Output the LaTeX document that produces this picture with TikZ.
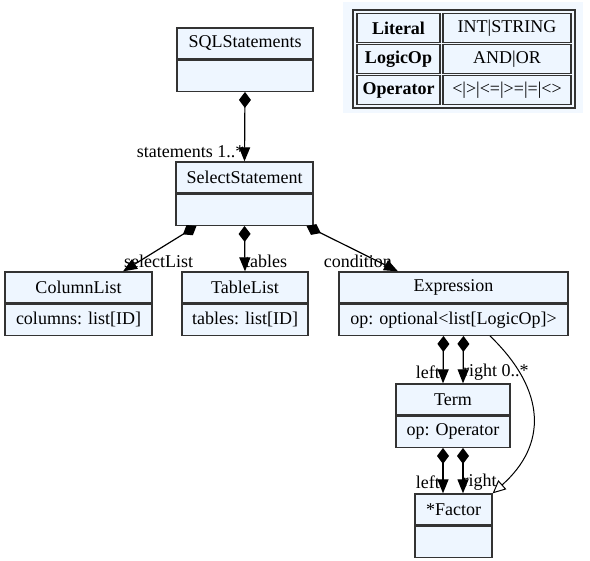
\documentclass[tikz,border=0pt]{standalone}
\usepackage{fontspec}
\setmainfont{Liberation Serif}
\usetikzlibrary{arrows.meta,positioning}
\definecolor{clsfill}{HTML}{EEF6FF}
\definecolor{clsline}{HTML}{333333}
\definecolor{keyback}{HTML}{F2F8FF}

\begin{document}
\begin{tikzpicture}[x=1pt,y=-1pt,
    every node/.style={font=\fontsize{18}{21}\selectfont},
    clshead/.style={draw=clsline,fill=clsfill,line width=1.3pt,minimum height=31pt,inner sep=0pt},
    clsbody/.style={clshead,anchor=north},
    lbl/.style={inner sep=0pt},
    comp/.style={draw=black,line width=1.2pt,{Diamond[length=16pt,width=12pt]}-{Triangle[length=14pt,width=11pt]}},
    gen/.style={draw=black,line width=1pt,-{Triangle[open,length=13pt,width=12pt]}},
    cell/.style={draw=clsline,fill=clsfill,line width=1.2pt,minimum height=29pt,inner sep=0pt}]
  \useasboundingbox (0,0) rectangle (590,561);

  % Classes
  \node[clshead,minimum width=136pt] (sqlstmts) at (245,43.5) {SQLStatements};
  \node[clsbody,minimum width=136pt] (sqlstmtsA) at (sqlstmts.south) {};

  \node[clshead,minimum width=137pt] (selstmt) at (244.5,177.5) {SelectStatement};
  \node[clsbody,minimum width=137pt] (selstmtA) at (selstmt.south) {};

  \node[clshead,minimum width=147pt] (collist) at (78.5,287.5) {ColumnList};
  \node[clsbody,minimum width=147pt] (collistA) at (collist.south) {columns: list[ID]};

  \node[clshead,minimum width=126pt] (tablist) at (245,287.5) {TableList};
  \node[clsbody,minimum width=126pt] (tablistA) at (tablist.south) {tables: list[ID]};

  \node[clshead,minimum width=229pt] (expr) at (453.5,287.5) {Expression};
  \node[clsbody,minimum width=229pt] (exprA) at (expr.south) {op: optional<list[LogicOp]>};

  \node[clshead,minimum width=114pt] (term) at (453,399.5) {Term};
  \node[clsbody,minimum width=114pt] (termA) at (term.south) {op: Operator};

  \node[clshead,minimum width=77pt] (factor) at (453.5,509.5) {*Factor};
  \node[clsbody,minimum width=77pt] (factorA) at (factor.south) {};

  % Role labels
  \node[lbl,anchor=east] (lstmts) at ([xshift=0pt,yshift=10pt]selstmt.north) {statements 1..*};
  \node[lbl,anchor=west] (lsel) at ([xshift=45.5pt,yshift=10pt]collist.north) {selectList};
  \node[lbl,anchor=west] (ltab) at ([yshift=10pt]tablist.north) {tables};
  \node[lbl,anchor=east] (lcond) at ([xshift=-61.5pt,yshift=10pt]expr.north) {condition};
  \node[lbl,anchor=east] (ltleft) at ([xshift=-13pt,yshift=11pt]term.north) {left};
  \node[lbl,anchor=west] (ltright) at ([xshift=10pt,yshift=11pt]term.north) {right 0..*};
  \node[lbl,anchor=east] (lfleft) at ([xshift=-13.5pt,yshift=11pt]factor.north) {left};
  \node[lbl,anchor=west] (lfright) at ([xshift=9pt,yshift=11pt]factor.north) {right};

  % Associations
  \draw[comp] (sqlstmtsA.south) -- (selstmt.north);
  \draw[comp] ([xshift=-48pt]selstmtA.south) -- ([xshift=44.5pt]collist.north);
  \draw[comp] (selstmtA.south) -- (tablist.north);
  \draw[comp] ([xshift=62pt]selstmtA.south) -- ([xshift=-55.5pt]expr.north);
  \draw[comp] ([xshift=-10pt]exprA.south) -- ([xshift=-10pt]term.north);
  \draw[comp] ([xshift=10pt]exprA.south) -- ([xshift=10pt]term.north);
  \draw[comp] ([xshift=-10pt]termA.south) -- ([xshift=-10.5pt]factor.north);
  \draw[comp] ([xshift=10pt]termA.south) -- ([xshift=9.5pt]factor.north);
  \draw[gen] ([xshift=36.5pt]exprA.south) .. controls (547,391) and (547,445) .. (factor.north east);

  % Legend
  \fill[keyback] (343,2) rectangle (583,113);
  \draw[clsline,line width=1.3pt] (353,10) rectangle (575,108);
  \node[cell,minimum width=83pt,font=\fontsize{18}{21}\selectfont\bfseries] (klit) at (398.5,28) {Literal};
  \node[cell,minimum width=128pt] (vlit) at (507,28) {INT|STRING};
  \node[cell,minimum width=83pt,font=\fontsize{18}{21}\selectfont\bfseries] (klog) at (398.5,59) {LogicOp};
  \node[cell,minimum width=128pt] (vlog) at (507,59) {AND|OR};
  \node[cell,minimum width=83pt,font=\fontsize{18}{21}\selectfont\bfseries] (kop) at (398.5,90) {Operator};
  \node[cell,minimum width=128pt] (vop) at (507,90) {<|>|<=|>=|=|<>};
\end{tikzpicture}
\end{document}
